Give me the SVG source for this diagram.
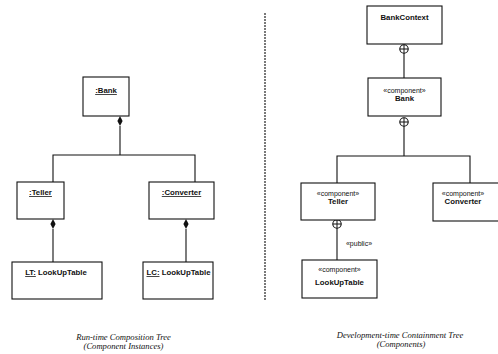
<svg xmlns="http://www.w3.org/2000/svg" width="498" height="354" viewBox="0 0 498 354">
  <style>
    .box { fill: #ffffff; stroke: #111111; stroke-width: 1.1; }
    .ln { fill: none; stroke: #111111; stroke-width: 1.1; }
    .name { font-family: "Liberation Sans", Arial, sans-serif; font-size: 7.8px; font-weight: bold; fill: #111111; text-anchor: middle; }
    .ul { text-decoration: underline; }
    .stereo { font-family: "Liberation Sans", Arial, sans-serif; font-size: 7px; fill: #111111; text-anchor: middle; }
    .cap { font-family: "Liberation Serif", "Times New Roman", serif; font-size: 8.6px; font-style: italic; fill: #111111; text-anchor: middle; }
  </style>
  <defs>
    <!-- filled composition diamond, anchored at its top point -->
    <path id="diamond" d="M0,0 L2.6,5 L0,10 L-2.6,5 Z" fill="#111111"/>
    <!-- containment anchor: circle with a cross -->
    <g id="anchor">
      <circle cx="0" cy="0" r="4.2" fill="#ffffff" stroke="#111111" stroke-width="1.1"/>
      <path d="M-4.2,0 H4.2 M0,-4.2 V4.2" stroke="#111111" stroke-width="1"/>
    </g>
  </defs>
  <rect width="498" height="354" fill="#ffffff"/>

  <!-- separator between the two trees -->
  <line x1="265" y1="13" x2="265" y2="301" stroke="#222222" stroke-width="1.2" stroke-dasharray="2,1"/>

  <!-- connectors -->
  <g id="connectors">
    <!-- run-time composition tree -->
    <path class="ln" d="M120,126 V155 M53,182 V155 H195 V182"/>
    <use href="#diamond" x="120" y="116"/>
    <path class="ln" d="M53,229 V262"/>
    <use href="#diamond" x="53" y="219"/>
    <path class="ln" d="M186,229 V262"/>
    <use href="#diamond" x="186" y="219"/>

    <!-- development-time containment tree -->
    <path class="ln" d="M404,53 V78"/>
    <use href="#anchor" x="404" y="49"/>
    <path class="ln" d="M404,126 V156 M337,183 V156 H470 V183"/>
    <use href="#anchor" x="404" y="122"/>
    <path class="ln" d="M337,228 V260"/>
    <use href="#anchor" x="337" y="224"/>
    <text class="stereo" x="359" y="245.5">«public»</text>
  </g>

  <!-- run-time instances -->
  <g id="bank-instance">
    <rect class="box" x="83" y="77" width="46" height="39"/>
    <text class="name ul" x="106" y="93">:Bank</text>
  </g>
  <g id="teller-instance">
    <rect class="box" x="17" y="182" width="47" height="37"/>
    <text class="name ul" x="40.5" y="195">:Teller</text>
  </g>
  <g id="converter-instance">
    <rect class="box" x="149" y="182" width="65" height="37"/>
    <text class="name ul" x="181.5" y="195">:Converter</text>
  </g>
  <g id="lt-instance">
    <rect class="box" x="12" y="262" width="90" height="37"/>
    <text class="name" x="56" y="275"><tspan class="ul">LT:</tspan> LookUpTable</text>
  </g>
  <g id="lc-instance">
    <rect class="box" x="143" y="262" width="70" height="37"/>
    <text class="name" x="178.5" y="275"><tspan class="ul">LC:</tspan> LookUpTable</text>
  </g>

  <!-- development-time components -->
  <g id="bankcontext">
    <rect class="box" x="367" y="6" width="75" height="38"/>
    <text class="name" x="404.5" y="20">BankContext</text>
  </g>
  <g id="bank-component">
    <rect class="box" x="368" y="78" width="73" height="38"/>
    <text class="stereo" x="404.5" y="92.5">«component»</text>
    <text class="name" x="404.5" y="100.5">Bank</text>
  </g>
  <g id="teller-component">
    <rect class="box" x="301" y="183" width="74" height="37"/>
    <text class="stereo" x="338" y="195.5">«component»</text>
    <text class="name" x="338" y="203.5">Teller</text>
  </g>
  <g id="converter-component">
    <rect class="box" x="433" y="183" width="74" height="38"/>
    <text class="stereo" x="463" y="195.5">«component»</text>
    <text class="name" x="463" y="203.5">Converter</text>
  </g>
  <g id="lookuptable-component">
    <rect class="box" x="302" y="260" width="75" height="38"/>
    <text class="stereo" x="339.5" y="272">«component»</text>
    <text class="name" x="339.5" y="284.5">LookUpTable</text>
  </g>

  <!-- captions -->
  <text class="cap" x="123.5" y="340">Run-time Composition Tree</text>
  <text class="cap" x="123.5" y="349">(Component Instances)</text>
  <text class="cap" x="400" y="338">Development-time Containment Tree</text>
  <text class="cap" x="401" y="347">(Components)</text>
</svg>
